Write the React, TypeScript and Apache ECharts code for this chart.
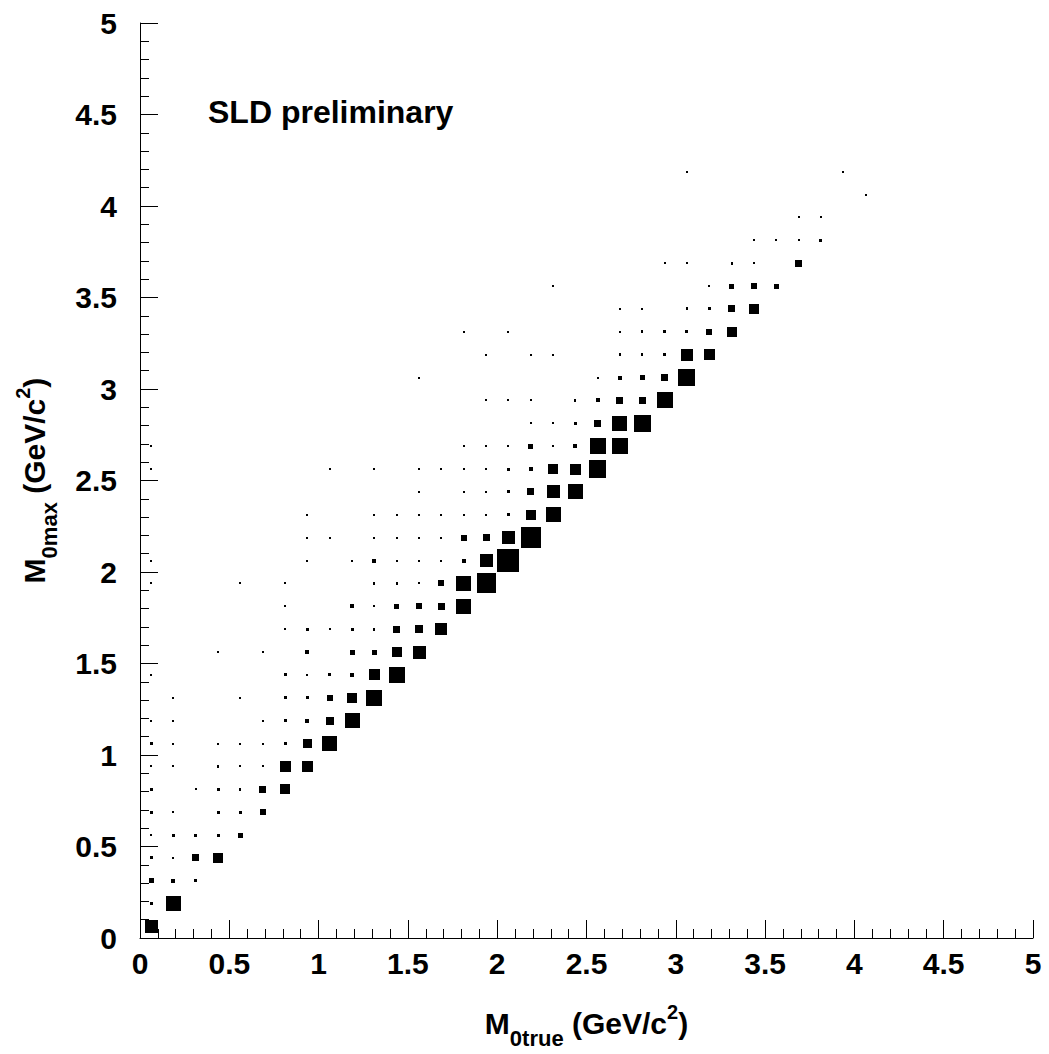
import React, { useEffect, useRef } from "react";
import * as echarts from "echarts";

// Histogram binning: 40 x 40 bins on [0, 5] GeV/c^2
const BIN_WIDTH = 0.125;
const AXIS_MIN = 0;
const AXIS_MAX = 5;
const AXIS_INTERVAL = 0.5;

const TITLE_TEXT = "SLD preliminary";
const X_NAME = ["M", "0true", " (GeV/c", "2", ")"];
const Y_NAME = ["M", "0max", " (GeV/c", "2", ")"];

// Box contents per M0max row (row index j -> bin center (j + 0.5) * BIN_WIDTH).
// Each entry: [M0true bin index, content]
const ROWS: [number, number][][] = [
  [[0, 57]],
  [[0, 13], [1, 65]],
  [[0, 22], [1, 17], [2, 13]],
  [[0, 13], [1, 9], [2, 30], [3, 43]],
  [[0, 9], [1, 15], [2, 15], [3, 15], [4, 22]],
  [[0, 13], [1, 7], [3, 13], [4, 13], [5, 28]],
  [[0, 13], [2, 7], [3, 15], [4, 11], [5, 30], [6, 43]],
  [[0, 9], [1, 9], [3, 11], [4, 9], [5, 9], [6, 48], [7, 48]],
  [[0, 13], [1, 9], [3, 7], [4, 7], [5, 9], [6, 13], [7, 39], [8, 65]],
  [[0, 9], [1, 9], [5, 9], [6, 13], [7, 17], [8, 35], [9, 65]],
  [[1, 9], [4, 7], [6, 13], [7, 13], [8, 26], [9, 43], [10, 70]],
  [[0, 9], [6, 13], [7, 9], [8, 13], [9, 17], [10, 48], [11, 70]],
  [[3, 7], [5, 7], [7, 17], [9, 22], [10, 22], [11, 43], [12, 57]],
  [[6, 7], [7, 13], [8, 7], [9, 13], [10, 11], [11, 30], [12, 35], [13, 52]],
  [[6, 7], [9, 17], [10, 9], [11, 22], [12, 26], [13, 30], [14, 65]],
  [[0, 7], [4, 7], [6, 7], [10, 11], [11, 11], [12, 9], [13, 26], [14, 65], [15, 87]],
  [[0, 7], [7, 7], [9, 9], [10, 17], [11, 9], [12, 9], [13, 9], [14, 17], [15, 57], [16, 100]],
  [[7, 7], [8, 7], [10, 7], [11, 7], [12, 9], [13, 9], [14, 26], [15, 30], [16, 57], [17, 91]],
  [[7, 7], [10, 7], [11, 9], [12, 9], [13, 9], [14, 7], [15, 9], [16, 13], [17, 43], [18, 65]],
  [[12, 7], [14, 9], [15, 9], [16, 13], [17, 30], [18, 57], [19, 65]],
  [[0, 7], [8, 7], [10, 7], [12, 9], [13, 9], [14, 7], [15, 9], [16, 13], [17, 17], [18, 43], [19, 48], [20, 78]],
  [[0, 7], [14, 7], [15, 9], [16, 9], [17, 22], [18, 7], [19, 17], [20, 70], [21, 70]],
  [[17, 9], [18, 9], [19, 13], [20, 30], [21, 65], [22, 74]],
  [[15, 9], [16, 9], [17, 7], [19, 11], [20, 17], [21, 30], [22, 30], [23, 70]],
  [[12, 7], [20, 9], [21, 17], [22, 22], [23, 30], [24, 74]],
  [[15, 7], [17, 9], [18, 7], [21, 11], [22, 11], [23, 13], [24, 52], [25, 48]],
  [[14, 7], [16, 7], [21, 7], [22, 11], [23, 15], [24, 15], [25, 26], [26, 43]],
  [[21, 9], [22, 7], [24, 11], [25, 15], [26, 30], [27, 43]],
  [[18, 7], [25, 9], [26, 22], [27, 26], [28, 22]],
  [[23, 7], [24, 9], [26, 11], [27, 7], [29, 30]],
  [[27, 7], [28, 9], [29, 9], [30, 13]],
  [[29, 7], [30, 9]],
  [[32, 9]],
  [[24, 7], [31, 7]],
];

const FONT = "'Liberation Sans', Arial, Helvetica, sans-serif";

function buildData(): number[][] {
  const out: number[][] = [];
  ROWS.forEach((row, j) => {
    row.forEach(([i, v]) => {
      out.push([(i + 0.5) * BIN_WIDTH, (j + 0.5) * BIN_WIDTH, v]);
    });
  });
  return out;
}

function richName(parts: string[]): string {
  return `{m|${parts[0]}}{sub|${parts[1]}}{m|${parts[2]}}{sup|${parts[3]}}{m|${parts[4]}}`;
}

const nameRich = {
  m: { fontSize: 30, fontWeight: "bold", fontFamily: FONT, color: "#000", lineHeight: 50 },
  sub: { fontSize: 22, fontWeight: "bold", fontFamily: FONT, color: "#000", lineHeight: 50, padding: [30, 0, 0, 0] },
  sup: { fontSize: 20, fontWeight: "bold", fontFamily: FONT, color: "#000", lineHeight: 50, padding: [0, 0, 22, 0] },
};

export default function App() {
  const ref = useRef<HTMLDivElement>(null);

  useEffect(() => {
    if (!ref.current) return;
    const chart = echarts.init(ref.current, undefined, { renderer: "svg" });
    const data = buildData();
    const vmax = Math.max(...data.map((d) => d[2]));

    const axisCommon = {
      type: "value" as const,
      min: AXIS_MIN,
      max: AXIS_MAX,
      interval: AXIS_INTERVAL,
      axisLine: { show: true, onZero: false, lineStyle: { color: "#000", width: 1 } },
      axisTick: { show: true, inside: true, length: 18, lineStyle: { color: "#000", width: 1 } },
      minorTick: { show: true, splitNumber: 5, length: 9, lineStyle: { color: "#000", width: 1 } },
      splitLine: { show: false },
      minorSplitLine: { show: false },
      nameLocation: "middle" as const,
      nameTextStyle: { rich: nameRich },
    };

    chart.setOption({
      animation: false,
      backgroundColor: "#fff",
      grid: { left: 137, top: 23, width: 896, height: 920, show: false },
      xAxis: {
        ...axisCommon,
        name: richName(X_NAME),
        nameGap: 60,
        axisLabel: {
          fontSize: 30,
          fontWeight: "bold",
          fontFamily: FONT,
          color: "#000",
          margin: 10,
          showMinLabel: true,
          showMaxLabel: true,
        },
      },
      yAxis: {
        ...axisCommon,
        name: richName(Y_NAME),
        nameRotate: 90,
        nameGap: 81,
        axisLabel: {
          fontSize: 30,
          fontWeight: "bold",
          fontFamily: FONT,
          color: "#000",
          margin: 23,
          showMinLabel: true,
          showMaxLabel: true,
        },
      },
      graphic: [
        {
          type: "text",
          x: 208,
          y: 112,
          style: {
            text: TITLE_TEXT,
            font: `bold 32px ${FONT}`,
            fill: "#000",
            verticalAlign: "middle",
            align: "left",
          },
        },
      ],
      series: [
        {
          type: "custom",
          clip: true,
          encode: { x: 0, y: 1 },
          data,
          renderItem: (params: any, api: any) => {
            const x = api.value(0);
            const y = api.value(1);
            const v = api.value(2);
            const c = api.coord([x, y]);
            const s = api.size([BIN_WIDTH, BIN_WIDTH]);
            const f = v / vmax;
            const w = Math.max(2, Math.round(s[0] * f));
            const h = Math.max(2, Math.round(s[1] * f));
            return {
              type: "rect",
              shape: {
                x: Math.round(c[0] - w / 2),
                y: Math.round(c[1] - h / 2),
                width: w,
                height: h,
              },
              style: { fill: "#000" },
            };
          },
        },
      ],
    });

    return () => {
      chart.dispose();
    };
  }, []);

  return (
    <div
      ref={ref}
      style={{ position: "fixed", left: 0, top: 0, width: 1049, height: 1054, background: "#fff" }}
    />
  );
}
